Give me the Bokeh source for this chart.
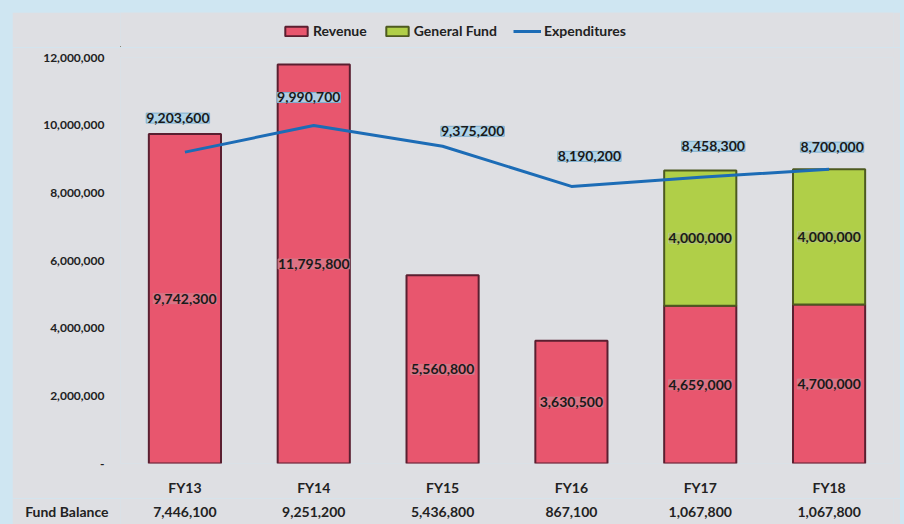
from bokeh.plotting import figure
from bokeh.layouts import column
from bokeh.models import (ColumnDataSource, LabelSet, Legend, LegendItem, FactorRange,
                          FixedTicker, NumeralTickFormatter, Range1d)
from bokeh.core.properties import value
from bokeh.embed import file_html
from bokeh.resources import INLINE

# ---- data ----
years = ["FY13", "FY14", "FY15", "FY16", "FY17", "FY18"]
revenue = [9742300, 11795800, 5560800, 3630500, 4659000, 4700000]
general_fund = [0, 0, 0, 0, 4000000, 4000000]
expenditures = [9203600, 9990700, 9375200, 8190200, 8458300, 8700000]
fund_balance = ["7,446,100", "9,251,200", "5,436,800", "867,100", "1,067,800", "1,067,800"]
y_ticks = [0, 2000000, 4000000, 6000000, 8000000, 10000000, 12000000]

# ---- label layout (screen-pixel offsets for expenditure labels) ----
exp_dx = [-7, -5, 30, 18, 13, 3]
exp_dy = [34, 28, 15, 30, 31, 22]

FONT = "Lato"
RED = "#e8566e"
RED_EDGE = "#5a1f30"
GREEN = "#b0cf48"
GREEN_EDGE = "#4d5a20"
BLUE = "#1c6cb6"
BG = "#dedfe3"
OUTER = "#cfe6f2"
TXT = "#222222"

src = ColumnDataSource(dict(
    x=years, revenue=revenue, exp=expenditures,
    rev_lbl=[f"{v:,}" for v in revenue],
    exp_lbl=[f"{v:,}" for v in expenditures],
    rev_mid=[r / 2 for r in revenue], dx=exp_dx, dy=exp_dy,
))
gf_src = ColumnDataSource(dict(
    x=[y for y, g in zip(years, general_fund) if g],
    bottom=[r for r, g in zip(revenue, general_fund) if g],
    top=[r + g for r, g in zip(revenue, general_fund) if g],
    mid=[r + g / 2 for r, g in zip(revenue, general_fund) if g],
    lbl=[f"{g:,}" for g in general_fund if g],
))

def style_fig(f):
    f.background_fill_color = BG
    f.border_fill_color = BG
    f.outline_line_color = None
    f.grid.grid_line_color = None

# ---- legend strip (proxy renderers sit outside the strip's visible range) ----
t = figure(width=888, height=35, x_range=Range1d(0, 1), y_range=Range1d(0, 1),
           output_backend="svg", toolbar_location=None,
           min_border_left=0, min_border_right=0, min_border_top=0, min_border_bottom=0)
style_fig(t)
t.axis.visible = False
proxy = ColumnDataSource(dict(x=[-500, -400], y=[-500, -500], top=[-400, -400]))
lg_rev = t.vbar(x="x", top="top", bottom="y", width=0.1, source=proxy,
                fill_color=RED, line_color=RED_EDGE, line_width=2)
lg_gf = t.vbar(x="x", top="top", bottom="y", width=0.1, source=proxy,
               fill_color=GREEN, line_color=GREEN_EDGE, line_width=2)
lg_exp = t.line(x="x", y="y", source=proxy, line_color=BLUE, line_width=3)
legend = Legend(items=[LegendItem(label="Revenue", renderers=[lg_rev]),
                       LegendItem(label="General Fund", renderers=[lg_gf]),
                       LegendItem(label="Expenditures", renderers=[lg_exp])],
                orientation="horizontal", location=(162, 8),
                background_fill_alpha=0, border_line_color=None,
                label_text_font=FONT, label_text_font_style="bold",
                label_text_font_size="14px", label_text_color=TXT,
                glyph_width=28, glyph_height=12, spacing=16, label_standoff=3,
                padding=0, margin=0)
t.add_layout(legend)

# ---- main chart ----
p = figure(width=888, height=451, x_range=FactorRange(*years), y_range=Range1d(0, 12000000),
           output_backend="svg", toolbar_location=None,
           min_border_left=108, min_border_right=7, min_border_top=10, min_border_bottom=35)
style_fig(p)

p.vbar(x="x", top="revenue", bottom=0, width=0.56, source=src,
       fill_color=RED, line_color=RED_EDGE, line_width=2)
p.vbar(x="x", top="top", bottom="bottom", width=0.56, source=gf_src,
       fill_color=GREEN, line_color=GREEN_EDGE, line_width=2)
p.line(x="x", y="exp", source=src, line_color=BLUE, line_width=3)

# y axis
p.yaxis.ticker = FixedTicker(ticks=y_ticks)
p.yaxis.formatter = NumeralTickFormatter(format="0,0")
p.yaxis.major_label_overrides = {0: "-"}
p.yaxis.axis_line_color = None
p.yaxis.major_tick_line_color = None
p.yaxis.minor_tick_line_color = None
p.yaxis.major_label_text_font = FONT
p.yaxis.major_label_text_font_style = "bold"
p.yaxis.major_label_text_font_size = "12px"
p.yaxis.major_label_text_color = TXT
p.yaxis.major_label_standoff = 10

# x axis (years)
p.xaxis.axis_line_color = None
p.xaxis.major_tick_line_color = None
p.xaxis.minor_tick_line_color = None
p.xaxis.major_label_text_font = FONT
p.xaxis.major_label_text_font_style = "bold"
p.xaxis.major_label_text_font_size = "14px"
p.xaxis.major_label_text_color = TXT
p.xaxis.major_label_standoff = 9

# data labels
common = dict(text_font=value(FONT), text_font_style="bold", text_font_size="14px",
              text_align="center", text_baseline="middle", text_color="#1a1a1a")
p.add_layout(LabelSet(x="x", y="rev_mid", text="rev_lbl", source=src,
                      background_fill_color="#d9798a", background_fill_alpha=0.8,
                      border_line_color="#c98592", border_line_alpha=0.7, **common))
p.add_layout(LabelSet(x="x", y="mid", text="lbl", source=gf_src,
                      background_fill_color="#a3b95a", background_fill_alpha=0.85,
                      border_line_color="#b8c98a", **common))
p.add_layout(LabelSet(x="x", y="exp", text="exp_lbl", source=src,
                      x_offset="dx", y_offset="dy",
                      background_fill_color="#aed3e8", background_fill_alpha=0.95,
                      border_line_color="#7fb0cf", **common))

# ---- fund balance row ----
fb_row = "Fund Balance"
q = figure(width=888, height=26, x_range=p.x_range, y_range=FactorRange(fb_row),
           output_backend="svg", toolbar_location=None,
           min_border_left=108, min_border_right=7, min_border_top=0, min_border_bottom=0)
style_fig(q)
q.xaxis.visible = False
q.yaxis.axis_line_color = None
q.yaxis.major_tick_line_color = None
q.yaxis.minor_tick_line_color = None
q.yaxis.major_label_text_font = FONT
q.yaxis.major_label_text_font_style = "bold"
q.yaxis.major_label_text_font_size = "14px"
q.yaxis.major_label_text_color = TXT
q.yaxis.major_label_standoff = 6
q.text(x=years, y=[fb_row] * len(years), text=fund_balance,
       text_font=value(FONT), text_font_style="bold", text_font_size="14px",
       text_align="center", text_baseline="middle", text_color=TXT)

layout = column(t, p, q, spacing=0,
                styles={"background-color": OUTER, "padding": "12px 4px 0px 12px"})

html = file_html(layout, INLINE)
open("out.html", "w").write(html)
